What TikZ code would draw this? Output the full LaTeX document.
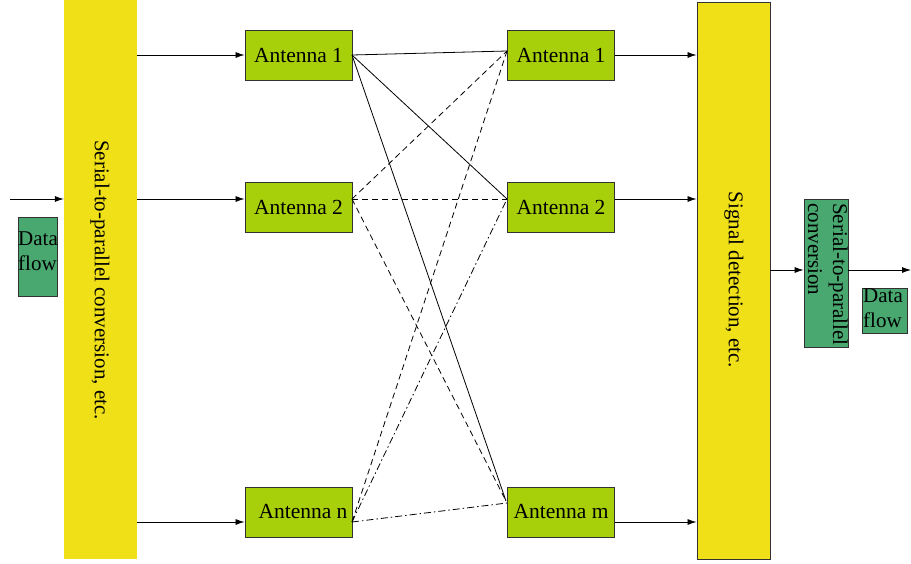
\documentclass[tikz,border=0pt]{standalone}
\usepackage{fontspec}
\setmainfont{Liberation Serif}
\usetikzlibrary{arrows.meta}
\definecolor{ybar}{RGB}{240,224,24}
\definecolor{lime}{RGB}{168,208,10}
\definecolor{dgreen}{RGB}{72,168,112}
\definecolor{edge}{RGB}{50,50,50}
\begin{document}
\begin{tikzpicture}[x=1pt,y=-1pt,
  txt/.style={font=\fontsize{21}{25}\selectfont},
  ant/.style={draw=edge,line width=0.9pt,fill=lime,minimum width=107pt,minimum height=50pt,inner sep=0pt,font=\fontsize{21.5}{25}\selectfont},
  gbox/.style={draw=edge,line width=0.8pt,fill=dgreen,inner sep=0pt},
  arr/.style={-{Latex[length=9pt,width=6pt]},line width=0.8pt},
  conn/.style={line width=0.8pt},
  dsh/.style={conn,dash pattern=on 6pt off 4pt},
  dd/.style={conn,dash pattern=on 7pt off 3pt on 1.5pt off 3pt}]
\useasboundingbox (0,0) rectangle (911,563);
% bars
\node[fill=ybar,minimum width=73pt,minimum height=559pt,inner sep=0pt] (lbar) at (100.5,279.5) {};
\node[rotate=-90,txt] (ltext) at (100,280) {Serial-to-parallel conversion, etc.};
\node[draw=edge,line width=0.9pt,fill=ybar,minimum width=73pt,minimum height=557pt,inner sep=0pt] (rbar) at (733.5,280.5) {};
\node[rotate=-90,txt] (rtext) at (734,280) {Signal detection, etc.};
% antennas
\node[ant] (L1) at (298.5,55.5) {Antenna 1};
\node[ant] (L2) at (298.5,207) {Antenna 2};
\node[ant] (Ln) at (298.5,512) {\hspace*{9pt}Antenna n};
\node[ant] (R1) at (561,55.5) {Antenna 1};
\node[ant] (R2) at (561,207) {Antenna 2};
\node[ant] (Rm) at (561,512) {Antenna m};
% input side
\coordinate (in) at (10,199);
\node[gbox,minimum width=39pt,minimum height=79pt] (df1) at (37.5,256.5) {};
\node[txt,align=left,anchor=north west,inner sep=0pt] (df1t) at (18,232) {Data\\flow};
\draw[arr] (in) -- (in-|lbar.west);
\coordinate (a1) at (137,55);
\coordinate (a2) at (137,199);
\coordinate (a3) at (137,522);
\draw[arr] (a1) -- (a1-|L1.west);
\draw[arr] (a2) -- (a2-|L2.west);
\draw[arr] (a3) -- (a3-|Ln.west);
\coordinate (b1) at (615,55);
\coordinate (b2) at (615,199);
\coordinate (b3) at (615,522);
\draw[arr] (b1) -- (b1-|rbar.west);
\draw[arr] (b2) -- (b2-|rbar.west);
\draw[arr] (b3) -- (b3-|rbar.west);
% output side
\node[gbox,minimum width=44pt,minimum height=148pt] (sp) at (826,273) {};
\node[rotate=-90,anchor=north west,align=left,inner sep=0pt,font=\fontsize{21}{25}\selectfont] (spt) at (848,203) {Serial-to-parallel\\conversion};
\node[gbox,minimum width=45pt,minimum height=45pt] (df2) at (884.5,310.5) {};
\node[txt,align=left,anchor=north west,inner sep=0pt] (df2t) at (863,289) {Data\\flow};
\coordinate (c1) at (770,270);
\draw[arr] (c1) -- (c1-|sp.west);
\coordinate (out) at (911,270);
\draw[arr] (c1-|sp.east) -- (out);
% connection points
\coordinate (L1e) at (352,55);
\coordinate (L2e) at (352,199);
\coordinate (Lne) at (352,522);
\coordinate (R1w) at (507,51);
\coordinate (R2w) at (507,199);
\coordinate (Rmw) at (506,501);
\coordinate (Rmw2) at (507,503);
% links
\draw[conn] (L1e) -- (R1w);
\draw[conn] (L1e) -- (R2w);
\draw[conn] (L1e) -- (Rmw);
\draw[dsh] (L2e) -- (R1w);
\draw[dsh] (L2e) -- (R2w);
\draw[dsh] (L2e) -- (Rmw);
\draw[dsh] (Lne) -- (R1w);
\draw[dd] (Lne) -- (R2w);
\draw[dd] (Lne) -- (Rmw2);
\end{tikzpicture}
\end{document}
